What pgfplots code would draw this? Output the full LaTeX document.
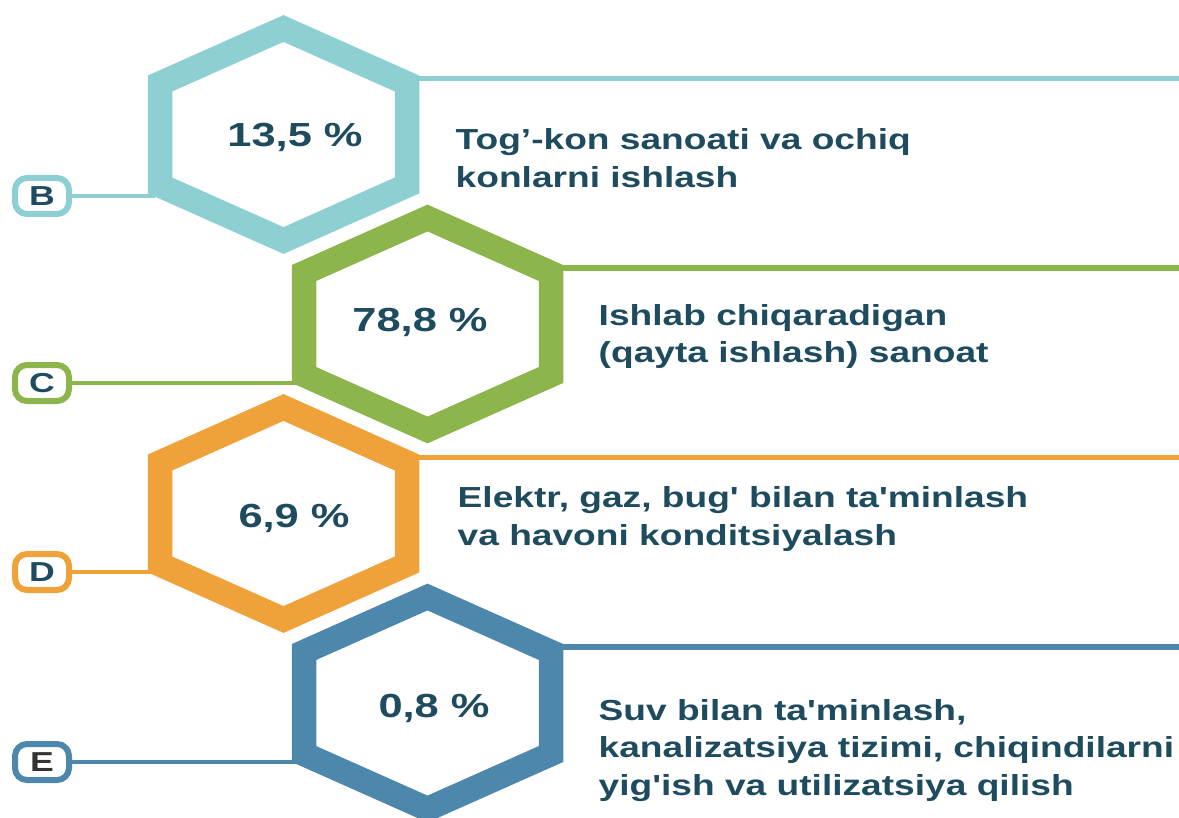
\documentclass[border=0pt]{standalone}
\usepackage{pgfplots}
\pgfplotsset{compat=1.18}
\usepackage{fontspec}
\setmainfont{Liberation Sans}
\usepackage{graphicx}

\definecolor{cB}{HTML}{8ECFD4}
\definecolor{cC}{HTML}{8CB54B}
\definecolor{cD}{HTML}{EFA13A}
\definecolor{cE}{HTML}{4D88AC}
\definecolor{txt}{HTML}{1E4B5E}

% text is stretched sideways in the original
\newcommand{\pct}[1]{\scalebox{1.3}[1]{\fontsize{9.5}{11}\selectfont\bfseries #1}}
\newcommand{\dtxt}[1]{\scalebox{1.28}[1]{\fontsize{8.25}{10}\selectfont\bfseries #1}}
\newcommand{\lett}[1]{\scalebox{1.3}[1]{\fontsize{7.8}{8}\selectfont\bfseries #1}}

\begin{document}
\begin{tikzpicture}
\begin{axis}[
    name=ax,
    width=117.9mm, height=81.7mm,
    scale only axis,
    xmin=0, xmax=1179, ymin=0, ymax=817,
    y dir=reverse,
    axis lines=none, ticks=none,
    clip=true,
]
% lines to the right edge
\addplot[cB, line width=0.55mm] coordinates {(410,78.5) (1179,78.5)};
\addplot[cC, line width=0.55mm] coordinates {(554,268) (1179,268)};
\addplot[cD, line width=0.55mm] coordinates {(410,457.5) (1179,457.5)};
\addplot[cE, line width=0.55mm] coordinates {(554,647) (1179,647)};
% connectors to the letter boxes
\addplot[cB, line width=0.45mm] coordinates {(70,196) (155,196)};
\addplot[cC, line width=0.45mm] coordinates {(70,383) (299,383)};
\addplot[cD, line width=0.45mm] coordinates {(70,572) (155,572)};
\addplot[cE, line width=0.45mm] coordinates {(70,762) (299,762)};
% hexagons
\addplot[cB, line width=2.45mm, line join=miter, fill=white] coordinates {
    (283.5,28.5) (407,83.5) (407,185.5) (283.5,240.5) (160,185.5) (160,83.5)} -- cycle;
\addplot[cC, line width=2.45mm, line join=miter, fill=white] coordinates {
    (427.5,218) (551,273) (551,375) (427.5,430) (304,375) (304,273)} -- cycle;
\addplot[cD, line width=2.45mm, line join=miter, fill=white] coordinates {
    (283.5,407.5) (407,462.5) (407,564.5) (283.5,619.5) (160,564.5) (160,462.5)} -- cycle;
\addplot[cE, line width=2.45mm, line join=miter, fill=white] coordinates {
    (427.5,597) (551,652) (551,754) (427.5,809) (304,754) (304,652)} -- cycle;
% shares
\node[anchor=base, text=txt, inner sep=0] at (axis cs:295,147) {\pct{13,5 \%}};
\node[anchor=base, text=txt, inner sep=0] at (axis cs:420,331) {\pct{78,8 \%}};
\node[anchor=base, text=txt, inner sep=0] at (axis cs:294,527) {\pct{6,9 \%}};
\node[anchor=base, text=txt, inner sep=0] at (axis cs:434,717) {\pct{0,8 \%}};
% letter boxes
\node[draw=cB, line width=0.6mm, fill=white, rounded corners=1.2mm, minimum width=5.4mm, minimum height=3.6mm, inner sep=0, text=txt] at (axis cs:42,196) {\lett{B}};
\node[draw=cC, line width=0.6mm, fill=white, rounded corners=1.2mm, minimum width=5.4mm, minimum height=3.6mm, inner sep=0, text=txt] at (axis cs:42,383) {\lett{C}};
\node[draw=cD, line width=0.6mm, fill=white, rounded corners=1.2mm, minimum width=5.4mm, minimum height=3.6mm, inner sep=0, text=txt] at (axis cs:42,572) {\lett{D}};
\node[draw=cE, line width=0.6mm, fill=white, rounded corners=1.2mm, minimum width=5.4mm, minimum height=3.6mm, inner sep=0, text=black!80] at (axis cs:42,762) {\lett{E}};
% descriptions
\node[anchor=base west, text=txt, inner sep=0] at (axis cs:455,150) {\dtxt{Tog’-kon sanoati va ochiq}};
\node[anchor=base west, text=txt, inner sep=0] at (axis cs:455,188) {\dtxt{konlarni ishlash}};
\node[anchor=base west, text=txt, inner sep=0] at (axis cs:598,325) {\dtxt{Ishlab chiqaradigan}};
\node[anchor=base west, text=txt, inner sep=0] at (axis cs:598,362) {\dtxt{(qayta ishlash) sanoat}};
\node[anchor=base west, text=txt, inner sep=0] at (axis cs:457,507) {\dtxt{Elektr, gaz, bug\textquotesingle{} bilan ta\textquotesingle{}minlash}};
\node[anchor=base west, text=txt, inner sep=0] at (axis cs:457,545) {\dtxt{va havoni konditsiyalash}};
\node[anchor=base west, text=txt, inner sep=0] at (axis cs:598,720) {\dtxt{Suv bilan ta\textquotesingle{}minlash,}};
\node[anchor=base west, text=txt, inner sep=0] at (axis cs:598,757) {\dtxt{kanalizatsiya tizimi, chiqindilarni}};
\node[anchor=base west, text=txt, inner sep=0] at (axis cs:598,795) {\dtxt{yig\textquotesingle{}ish va utilizatsiya qilish}};
\end{axis}
\pgfresetboundingbox
\path[use as bounding box] (ax.south west) rectangle (ax.north east);
\end{tikzpicture}
\end{document}
